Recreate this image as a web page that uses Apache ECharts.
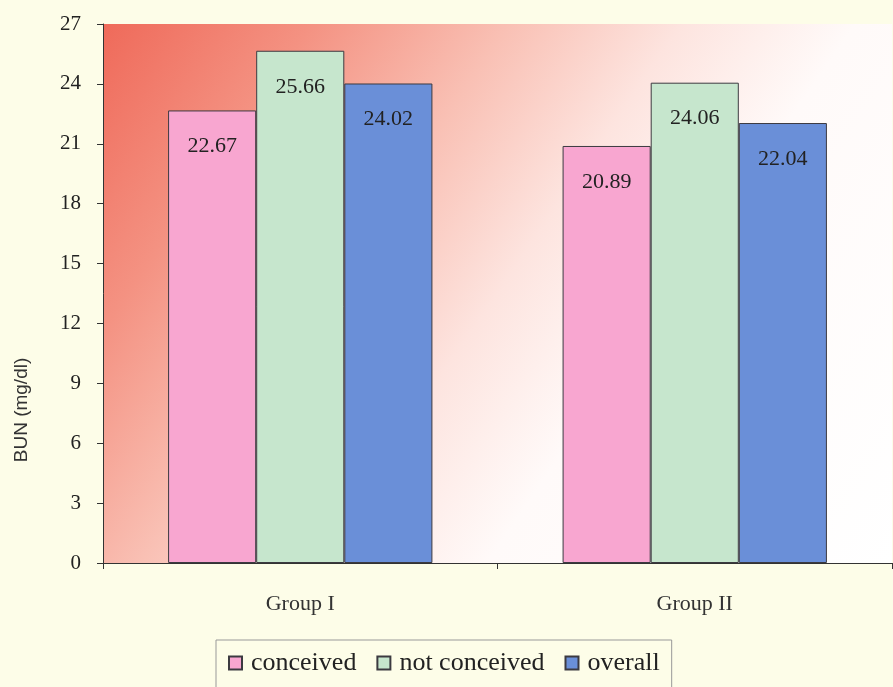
<!DOCTYPE html>
<html>
<head>
<meta charset="utf-8">
<script src="https://cdn.jsdelivr.net/npm/echarts@6/dist/echarts.min.js"></script>
<style>
  html, body { margin: 0; padding: 0; background: #fdfde8; }
  #chart { width: 893px; height: 687px; }
</style>
</head>
<body>
<div id="chart"></div>
<script>
// BUN values by group and conception outcome
const categories = ['Group I', 'Group II'];
const conceived = [22.67, 20.89];
const notConceived = [25.66, 24.06];
const overall = [24.02, 22.04];
const yTicks = [0, 3, 6, 9, 12, 15, 18, 21, 24, 27];

const serif = '"Liberation Serif", "Times New Roman", serif';

const chart = echarts.init(document.getElementById('chart'));

function barSeries(name, data, color) {
  return {
    name: name,
    type: 'bar',
    data: data,
    barGap: '0%',
    barCategoryGap: '33%',
    itemStyle: { color: color, borderColor: '#3c3a40', borderWidth: 1 },
    label: {
      show: true,
      position: 'insideTop',
      distance: 25,
      fontFamily: serif,
      fontSize: 22,
      color: '#222',
      formatter: p => p.value.toFixed(2)
    }
  };
}

chart.setOption({
  backgroundColor: '#fdfde8',
  animation: false,
  grid: {
    left: 103, right: 1, top: 24, bottom: 124,
    show: true,
    borderWidth: 0,
    backgroundColor: new echarts.graphic.LinearGradient(0, 0, 1, 1, [
      { offset: 0, color: '#ef6a5a' },
      { offset: 0.18, color: '#f49282' },
      { offset: 0.35, color: '#f9c0b4' },
      { offset: 0.5, color: '#fde4df' },
      { offset: 0.65, color: '#fffaf9' },
      { offset: 1, color: '#ffffff' }
    ])
  },
  legend: {
    left: 216, top: 640,
    padding: [10, 12, 30, 12],
    itemWidth: 13, itemHeight: 13,
    itemGap: 20,
    borderColor: '#999', borderWidth: 1,
    backgroundColor: '#fdfde8',
    icon: 'rect',
    textStyle: { fontFamily: serif, fontSize: 26, color: '#222', padding: [0, 0, 0, 4] },
    data: ['conceived', 'not conceived', 'overall']
  },
  xAxis: {
    type: 'category',
    data: categories,
    axisLine: { lineStyle: { color: '#333', width: 1 } },
    axisTick: { show: true, length: 6, alignWithLabel: false, lineStyle: { color: '#333' } },
    axisLabel: { margin: 30, fontFamily: serif, fontSize: 22, color: '#333' }
  },
  yAxis: {
    type: 'value',
    min: 0, max: 27, interval: 3,
    splitLine: { show: false },
    axisLine: { show: true, lineStyle: { color: '#333', width: 1 } },
    axisTick: { show: true, length: 6, lineStyle: { color: '#333' } },
    axisLabel: {
      margin: 22, fontFamily: serif, fontSize: 21, color: '#222',
      formatter: v => yTicks.includes(v) ? String(v) : ''
    }
  },
  graphic: [{
    type: 'text',
    x: 22, y: 410,
    rotation: Math.PI / 2,
    style: {
      text: 'BUN (mg/dl)',
      fontFamily: '"Liberation Sans", Arial, sans-serif',
      fontSize: 19,
      fill: '#333',
      textAlign: 'center',
      textVerticalAlign: 'middle'
    }
  }],
  series: [
    barSeries('conceived', conceived, '#f8a6d0'),
    barSeries('not conceived', notConceived, '#c6e6cd'),
    barSeries('overall', overall, '#6a8fd8')
  ]
});
</script>
</body>
</html>
